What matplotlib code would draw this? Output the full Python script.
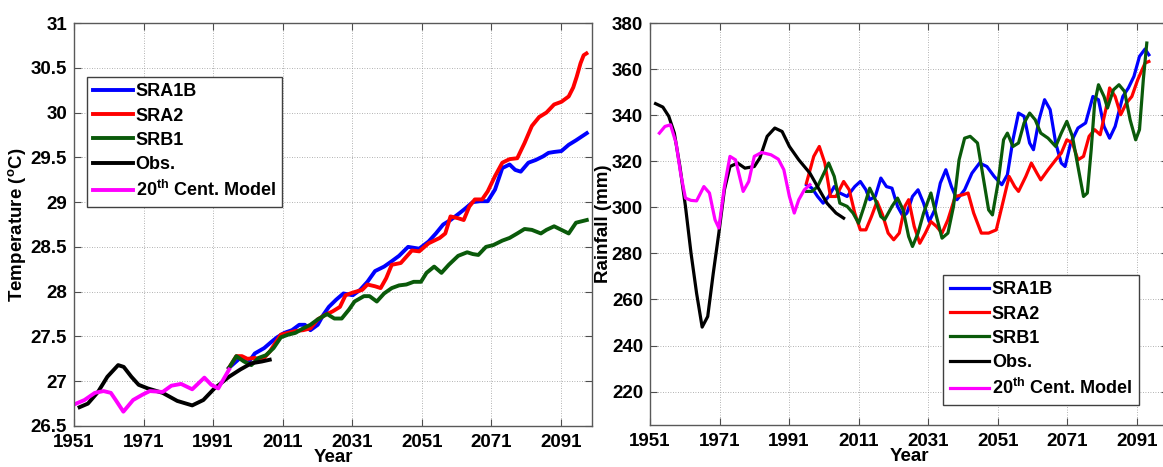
import matplotlib
matplotlib.use("Agg")
import matplotlib.pyplot as plt

plt.rcParams['font.family'] = ['Liberation Sans', 'DejaVu Sans']
plt.rcParams['font.weight'] = 'bold'
plt.rcParams['mathtext.fontset'] = 'custom'
plt.rcParams['mathtext.rm'] = 'Liberation Sans:bold'
plt.rcParams['mathtext.bf'] = 'Liberation Sans:bold'
plt.rcParams['mathtext.default'] = 'bf'

# ---- temperature (left) ----
t_obs_yr = [1952.6, 1955, 1957.9, 1960.6, 1963.7, 1965.3, 1967.5, 1969.6, 1972.2, 1976.5,
            1980.7, 1985, 1988.2, 1991.4, 1995.6, 1998.8, 2002, 2005, 2007.3]
t_obs = [26.71, 26.75, 26.88, 27.05, 27.18, 27.16, 27.05, 26.96, 26.92, 26.87,
         26.78, 26.73, 26.79, 26.92, 27.05, 27.13, 27.2, 27.22, 27.24]

t_c20_yr = [1951, 1954, 1957, 1959.5, 1961.6, 1963, 1965.2, 1968, 1970.7, 1972.8, 1976.5,
            1979, 1981.8, 1985, 1988.5, 1990.5, 1992.5, 1995.6]
t_c20 = [26.74, 26.79, 26.87, 26.89, 26.87, 26.79, 26.66, 26.79, 26.85, 26.89, 26.88,
         26.95, 26.97, 26.91, 27.04, 26.96, 26.92, 27.13]

t_a1b_yr = [1995.6, 1998.8, 2001, 2003, 2005.7, 2007.8, 2009.4, 2011.5, 2013.7, 2015.8, 2017.4,
            2019, 2021.1, 2022.7, 2024.3, 2026.4, 2028.5, 2031.2, 2033.3, 2035.4, 2037.6,
            2040.2, 2042.4, 2044.5, 2047.1, 2048.7, 2050.3, 2053, 2055.1, 2057.2, 2059.3,
            2062, 2063.6, 2065.7, 2067.8, 2070, 2072.1, 2074.2, 2076.3, 2077.9, 2079.5,
            2081.7, 2083.8, 2085.9, 2087.5, 2089.1, 2091.2, 2093.3, 2095.4, 2098.5]
t_a1b = [27.15, 27.26, 27.2, 27.31, 27.37, 27.44, 27.49, 27.54, 27.57, 27.63, 27.63,
         27.57, 27.63, 27.74, 27.83, 27.91, 27.98, 27.96, 28.02, 28.11, 28.23,
         28.28, 28.34, 28.4, 28.5, 28.49, 28.48, 28.56, 28.65, 28.75, 28.8,
         28.88, 28.93, 29.0, 29.01, 29.01, 29.14, 29.38, 29.42, 29.36, 29.34,
         29.44, 29.47, 29.51, 29.55, 29.56, 29.57, 29.64, 29.69, 29.77]

t_a2_yr = [1995.6, 1997.7, 1999.3, 2000.9, 2003, 2005.2, 2007.3, 2010.5, 2012.6, 2014.7, 2016.9,
           2019, 2021.1, 2023.2, 2025.4, 2027.5, 2029.1, 2031.2, 2033.9, 2035.4, 2037.6,
           2039.2, 2040.8, 2042.4, 2045, 2046.6, 2048.2, 2050.3, 2053, 2056.2, 2057.8,
           2059.3, 2061.5, 2063.1, 2064.7, 2066.3, 2068.4, 2070, 2072.1, 2074.2, 2076.3,
           2078.5, 2080.6, 2082.7, 2084.8, 2086.9, 2089.1, 2091.2, 2093.3, 2094.6, 2095.6,
           2096.7, 2097.6, 2098.4]
t_a2 = [27.15, 27.28, 27.28, 27.25, 27.26, 27.24, 27.33, 27.52, 27.54, 27.56, 27.57,
        27.59, 27.69, 27.74, 27.78, 27.83, 27.96, 27.99, 28.02, 28.08, 28.06,
        28.04, 28.15, 28.3, 28.32, 28.39, 28.46, 28.45, 28.54, 28.6, 28.65,
        28.84, 28.82, 28.8, 28.95, 29.03, 29.03, 29.12, 29.29, 29.44, 29.48,
        29.49, 29.66, 29.85, 29.95, 30.0, 30.09, 30.12, 30.18, 30.28, 30.4,
        30.55, 30.64, 30.66]

t_b1_yr = [1995.6, 1997.7, 1999.9, 2002, 2004.1, 2006.2, 2008.4, 2010.5, 2012.6, 2014.7, 2016.9,
           2019, 2021.1, 2023.8, 2025.9, 2028, 2030.1, 2031.7, 2034.4, 2036, 2038.1,
           2040.2, 2042.4, 2044.5, 2046.6, 2048.7, 2050.8, 2052.4, 2054.6, 2056.7, 2058.8,
           2061.5, 2064.1, 2065.7, 2067.3, 2069.5, 2071.6, 2074.2, 2076.3, 2078.5, 2080.6,
           2082.7, 2085.3, 2086.9, 2089.1, 2091.2, 2093.3, 2095.4, 2098.5]
t_b1 = [27.15, 27.28, 27.22, 27.18, 27.26, 27.29, 27.37, 27.49, 27.52, 27.54, 27.59,
        27.63, 27.69, 27.75, 27.7, 27.7, 27.8, 27.89, 27.95, 27.95, 27.89,
        27.98, 28.04, 28.07, 28.08, 28.11, 28.11, 28.21, 28.28, 28.21, 28.3,
        28.4, 28.44, 28.42, 28.41, 28.5, 28.52, 28.57, 28.6, 28.65, 28.7,
        28.69, 28.65, 28.69, 28.73, 28.69, 28.65, 28.77, 28.8]

# ---- rainfall (right) ----
r_obs_yr = [1952.6, 1954.7, 1956.4, 1958, 1959.6, 1961.2, 1962.8, 1964.4, 1966, 1967.6,
            1969.2, 1970.8, 1972.4, 1974, 1976.2, 1978.3, 1981, 1982.6, 1984.7, 1986.9,
            1989, 1991.1, 1993.8, 1997, 1999.7, 2001.9, 2004.5, 2006.7]
r_obs = [345.0, 343.5, 339.5, 332.2, 317.7, 300.4, 280.1, 262.7, 248.0, 252.6,
         271.4, 288.8, 307.6, 317.7, 319.2, 317.0, 317.7, 321.4, 330.8, 334.4,
         332.9, 326.4, 320.6, 314.8, 307.6, 301.8, 297.5, 295.3]

r_c20_yr = [1953.7, 1955.3, 1956.9, 1958.5, 1959.8, 1961.2, 1962.8, 1964.4, 1966.5, 1968.1,
            1969.7, 1970.8, 1972.4, 1974, 1975.6, 1977.8, 1979.4, 1981, 1983.1, 1985.8,
            1987.9, 1989.5, 1991.1, 1992.5, 1993.8, 1995.4, 1997]
r_c20 = [332.2, 335.1, 335.8, 327.9, 314.8, 304.0, 303.0, 302.8, 309.0, 306.2,
         294.6, 291.0, 309.0, 322.1, 320.6, 306.9, 311.2, 322.1, 323.8, 322.8,
         320.9, 316.3, 304.7, 297.5, 303.3, 307.6, 309.8]

r_a1b_yr = [1996, 1997.6, 1999.2, 2000.8, 2002.4, 2004, 2005.6, 2007.7, 2009.9, 2011.5,
            2013.1, 2014.2, 2015.8, 2017.4, 2019, 2020.6, 2022.2, 2023.8, 2024.9, 2026.5,
            2028.1, 2029.7, 2031.3, 2032.9, 2034.5, 2036.1, 2037.7, 2039.3, 2041.5, 2043.6,
            2045.8, 2047.9, 2050, 2052.2, 2053.8, 2055.4, 2057, 2058.6, 2060.2, 2061.3,
            2062.9, 2064.5, 2066.1, 2067.7, 2069.3, 2070.4, 2072, 2074.1, 2076.3, 2078.4,
            2080, 2081.6, 2083.2, 2084.8, 2087, 2088.6, 2090.2, 2091.8, 2093.4, 2094.5]
r_a1b = [309.8, 308.3, 304.7, 301.8, 304.7, 309.0, 306.2, 304.7, 309.0, 311.2,
         307.6, 303.3, 304.7, 312.7, 309.0, 308.3, 300.4, 296.0, 297.5, 304.7,
         307.6, 301.8, 293.8, 298.9, 310.5, 316.3, 309.0, 303.3, 307.6, 314.8,
         319.2, 317.7, 313.4, 309.8, 314.1, 329.3, 340.9, 339.5, 327.9, 325.0,
         338.0, 346.7, 342.4, 327.9, 319.2, 317.7, 327.9, 334.4, 336.6, 348.1,
         346.7, 335.1, 330.0, 335.1, 348.1, 351.8, 356.8, 365.5, 368.7, 366.2]

r_a2_yr = [1996, 1998.1, 1999.7, 2001.3, 2002.9, 2004.5, 2006.7, 2008.3, 2009.9, 2011.5,
           2013.1, 2014.7, 2016.3, 2017.9, 2019.5, 2021.1, 2022.7, 2024.3, 2025.4, 2027,
           2028.6, 2030.2, 2031.8, 2033.4, 2035, 2036.7, 2038.8, 2040.9, 2042.5, 2044.1,
           2046.3, 2048.4, 2050.6, 2052.7, 2054.3, 2055.9, 2057, 2059.1, 2060.7, 2062.3,
           2063.4, 2065.5, 2067.7, 2069.3, 2070.9, 2072.5, 2074.1, 2075.7, 2077.3, 2078.9,
           2080.5, 2082.2, 2083.2, 2084.8, 2086.4, 2088, 2089.6, 2091.3, 2093.4, 2094.5]
r_a2 = [310.5, 322.1, 326.4, 319.2, 304.7, 304.7, 311.2, 307.6, 297.5, 290.2,
        290.2, 296.0, 302.5, 296.7, 288.8, 285.9, 288.8, 300.4, 303.3, 291.7,
        284.4, 288.8, 293.8, 291.7, 288.8, 294.6, 304.7, 305.4, 306.2, 297.5,
        288.8, 288.8, 290.2, 303.3, 313.4, 309.0, 306.9, 313.4, 319.2, 314.8,
        311.9, 316.3, 320.6, 323.5, 329.3, 327.9, 320.6, 322.1, 330.8, 333.7,
        331.5, 343.1, 351.8, 348.1, 340.2, 345.2, 348.1, 355.4, 362.6, 363.3]

r_b1_yr = [1996, 1997.6, 1999.2, 2000.8, 2002.4, 2004, 2005.6, 2007.7, 2009.4, 2011,
           2012.6, 2014.2, 2015.8, 2017.4, 2018.5, 2020.6, 2022.2, 2023.8, 2025.4, 2026.5,
           2028.1, 2029.7, 2031.8, 2033.4, 2035, 2036.7, 2038.3, 2039.9, 2041.5, 2043.1,
           2045.2, 2046.8, 2048.4, 2049.5, 2051.1, 2052.7, 2053.8, 2055.4, 2057, 2058.6,
           2060.2, 2061.8, 2063.4, 2065.5, 2067.7, 2069.3, 2070.9, 2072.5, 2074.1, 2075.7,
           2076.8, 2077.9, 2078.9, 2080, 2081.6, 2082.6, 2084.3, 2085.9, 2087.5, 2089.1,
           2090.7, 2091.8, 2092.9, 2093.9]
r_b1 = [306.9, 306.9, 309.0, 314.1, 319.2, 313.4, 301.8, 300.4, 297.5, 293.1,
        300.4, 308.3, 303.3, 296.0, 294.6, 300.4, 304.0, 298.9, 287.3, 283.0,
        288.8, 297.5, 306.2, 296.0, 286.6, 288.8, 300.4, 320.6, 330.0, 330.8,
        327.9, 313.4, 298.9, 296.7, 310.5, 329.3, 332.2, 326.4, 327.9, 336.6,
        340.9, 338.0, 332.2, 330.0, 326.4, 332.2, 337.3, 330.8, 317.7, 304.7,
        306.2, 324.9, 345.2, 353.2, 348.1, 343.1, 351.0, 353.2, 350.3, 338.0,
        329.3, 333.7, 355.4, 371.3]

years_ticks = [1951, 1971, 1991, 2011, 2031, 2051, 2071, 2091]
labels = ['SRA1B', 'SRA2', 'SRB1', 'Obs.', r'20$^{th}$ Cent. Model']
colors = ['#0000ff', '#ff0000', '#0a5a0a', '#000000', '#ff00ff']

FS = 13.5

fig = plt.figure(figsize=(11.63, 4.67), dpi=100)
W, H = 1163.0, 467.0
ax1 = fig.add_axes([74 / W, (H - 426) / H, 518 / W, 403 / H])
ax2 = fig.add_axes([650 / W, (H - 425) / H, 518 / W, 402 / H])


def style(ax):
    ax.set_xlim(1951, 2100)
    ax.set_xticks(years_ticks)
    ax.tick_params(direction='in', top=True, right=True, length=5, width=0.8,
                   labelsize=FS, color='0.3')
    ax.tick_params(axis='x', pad=6)
    ax.tick_params(axis='y', pad=5)
    ax.grid(True, linestyle=(0, (1, 2)), color='0.6', linewidth=0.6)
    for s in ax.spines.values():
        s.set_color('0.35')
        s.set_linewidth(1.0)
    ax.set_xlabel('Year', fontsize=FS, fontweight='bold', labelpad=-2)


def add_legend(ax, anchor):
    leg = ax.legend(loc='upper left', bbox_to_anchor=anchor, fontsize=13,
                    handlelength=2.2, handletextpad=0.15, labelspacing=0.4,
                    borderpad=0.35, borderaxespad=0, fancybox=False, framealpha=1)
    leg.get_frame().set_edgecolor('0.25')
    leg.get_frame().set_linewidth(1.0)
    return leg


lw1 = 2.8
ax1.plot(t_a1b_yr, t_a1b, color=colors[0], lw=lw1, label=labels[0])
ax1.plot(t_a2_yr, t_a2, color=colors[1], lw=lw1, label=labels[1])
ax1.plot(t_b1_yr, t_b1, color=colors[2], lw=lw1, label=labels[2])
ax1.plot(t_obs_yr, t_obs, color=colors[3], lw=lw1, label=labels[3])
ax1.plot(t_c20_yr, t_c20, color=colors[4], lw=lw1, label=labels[4])
style(ax1)
ax1.set_ylim(26.5, 31)
ax1.set_yticks([26.5, 27, 27.5, 28, 28.5, 29, 29.5, 30, 30.5, 31])
ax1.set_yticklabels(['26.5', '27', '27.5', '28', '28.5', '29', '29.5', '30', '30.5', '31'])
ax1.set_ylabel(r'Temperature ($^{o}$C)', fontsize=FS, fontweight='bold', labelpad=2)
add_legend(ax1, (0.025, 0.866))

lw2 = 2.3
ax2.plot(r_a1b_yr, r_a1b, color=colors[0], lw=lw2, label=labels[0])
ax2.plot(r_a2_yr, r_a2, color=colors[1], lw=lw2, label=labels[1])
ax2.plot(r_b1_yr, r_b1, color=colors[2], lw=lw2, label=labels[2])
ax2.plot(r_obs_yr, r_obs, color=colors[3], lw=lw2, label=labels[3])
ax2.plot(r_c20_yr, r_c20, color=colors[4], lw=lw2, label=labels[4])
style(ax2)
ax2.set_ylim(205.5, 380)
ax2.set_yticks([220, 240, 260, 280, 300, 320, 340, 360, 380])
ax2.set_ylabel('Rainfall (mm)', fontsize=FS, fontweight='bold', labelpad=0)
add_legend(ax2, (0.566, 0.373))

fig.savefig('out.png', dpi=100)
